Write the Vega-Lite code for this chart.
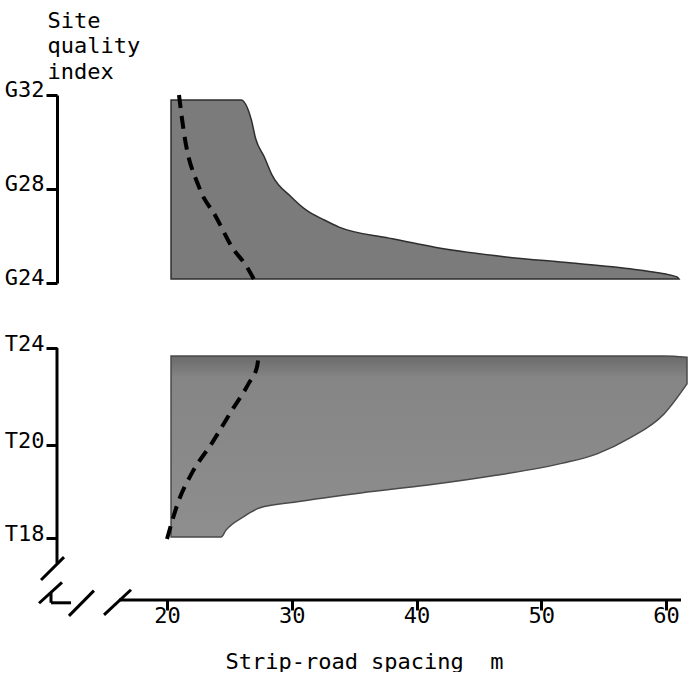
{
  "$schema": "https://vega.github.io/schema/vega-lite/v6.json",
  "padding": {"left": 4, "top": 9, "right": 0, "bottom": 0},
  "background": "white",
  "bounds": "flush",
  "spacing": 65,
  "config": {
    "font": "DejaVu Sans Mono",
    "view": {"stroke": null},
    "axis": {
      "grid": false,
      "labelFont": "DejaVu Sans Mono",
      "titleFont": "DejaVu Sans Mono",
      "labelFontSize": 22,
      "titleFontSize": 22,
      "labelColor": "black",
      "titleColor": "black",
      "titleFontWeight": "normal",
      "domainColor": "black",
      "tickColor": "black",
      "domainWidth": 3,
      "tickWidth": 3
    }
  },
  "datasets": {
    "gArea": [
      {"spacing": 20.32, "upper": 31.79, "lower": 24.17},
      {"spacing": 25.93, "upper": 31.79, "lower": 24.17},
      {"spacing": 26.76, "upper": 30.94, "lower": 24.17},
      {"spacing": 27.10, "upper": 30.15, "lower": 24.17},
      {"spacing": 27.80, "upper": 29.36, "lower": 24.17},
      {"spacing": 28.41, "upper": 28.60, "lower": 24.17},
      {"spacing": 29.96, "upper": 27.66, "lower": 24.17},
      {"spacing": 31.14, "upper": 27.11, "lower": 24.17},
      {"spacing": 32.61, "upper": 26.68, "lower": 24.17},
      {"spacing": 33.79, "upper": 26.38, "lower": 24.17},
      {"spacing": 37.79, "upper": 25.91, "lower": 24.17},
      {"spacing": 41.80, "upper": 25.49, "lower": 24.17},
      {"spacing": 47.17, "upper": 25.11, "lower": 24.17},
      {"spacing": 52.46, "upper": 24.85, "lower": 24.17},
      {"spacing": 57.83, "upper": 24.55, "lower": 24.17},
      {"spacing": 60.88, "upper": 24.26, "lower": 24.17},
      {"spacing": 61.04, "upper": 24.17, "lower": 24.17}
    ],
    "gDash": [
      {"spacing": 20.96, "index": 32.00},
      {"spacing": 21.36, "index": 30.38},
      {"spacing": 22.56, "index": 28.09},
      {"spacing": 23.93, "index": 26.81},
      {"spacing": 25.21, "index": 25.53},
      {"spacing": 26.41, "index": 24.68},
      {"spacing": 27.21, "index": 23.91}
    ],
    "tArea": [
      {"spacing": 20.32, "upper": 23.67, "lower": 18.02},
      {"spacing": 24.33, "upper": 23.67, "lower": 18.02},
      {"spacing": 24.73, "upper": 23.67, "lower": 18.17},
      {"spacing": 26.09, "upper": 23.67, "lower": 18.45},
      {"spacing": 27.45, "upper": 23.67, "lower": 18.65},
      {"spacing": 30.18, "upper": 23.67, "lower": 18.77},
      {"spacing": 35.55, "upper": 23.67, "lower": 18.97},
      {"spacing": 40.92, "upper": 23.67, "lower": 19.14},
      {"spacing": 46.37, "upper": 23.67, "lower": 19.35},
      {"spacing": 51.74, "upper": 23.67, "lower": 19.61},
      {"spacing": 54.47, "upper": 23.67, "lower": 19.81},
      {"spacing": 57.11, "upper": 23.67, "lower": 20.29},
      {"spacing": 59.84, "upper": 23.67, "lower": 21.28},
      {"spacing": 61.68, "upper": 23.62, "lower": 22.52}
    ],
    "tDash": [
      {"spacing": 20.00, "index": 17.98},
      {"spacing": 20.96, "index": 18.82},
      {"spacing": 22.00, "index": 19.40},
      {"spacing": 23.60, "index": 20.08},
      {"spacing": 25.21, "index": 21.44},
      {"spacing": 26.57, "index": 22.56},
      {"spacing": 27.21, "index": 23.22},
      {"spacing": 27.37, "index": 23.79}
    ],
    "lines": [
      {"x": 11.18, "x2": 11.18, "y": 24.0, "y2": 17.46},
      {"x": 16.15, "x2": 61.2, "y": 16.67, "y2": 16.67},
      {"x": 9.90, "x2": 11.74, "y": 17.10, "y2": 17.59},
      {"x": 9.74, "x2": 11.58, "y": 16.60, "y2": 17.05},
      {"x": 10.70, "x2": 10.70, "y": 16.82, "y2": 16.61},
      {"x": 10.70, "x2": 12.30, "y": 16.61, "y2": 16.61},
      {"x": 12.14, "x2": 14.14, "y": 16.33, "y2": 16.87},
      {"x": 14.95, "x2": 17.11, "y": 16.35, "y2": 16.89}
    ]
  },
  "vconcat": [
    {
      "width": 630,
      "height": 188,
      "layer": [
        {
          "data": {"name": "gArea"},
          "mark": {"type": "area", "color": "#7b7b7b", "stroke": "#2e2e2e", "strokeWidth": 1.5, "interpolate": "monotone"},
          "encoding": {
            "x": {"field": "spacing", "type": "quantitative", "scale": {"domain": [11.18, 61.68], "nice": false, "zero": false}, "axis": null},
            "y": {
              "field": "upper", "type": "quantitative",
              "scale": {"domain": [24, 32], "nice": false, "zero": false},
              "axis": {
                "values": [24, 28, 32],
                "labelExpr": "'G' + datum.value",
                "title": ["Site", "quality", "index"],
                "titleAngle": 0,
                "titleAlign": "left",
                "titleBaseline": "alphabetic",
                "titleX": -10,
                "titleY": -68,
                "titleLineHeight": 25.5,
                "tickSize": 11,
                "labelPadding": 2,
                "labelBaseline": "alphabetic",
                "labelOffset": 1
              }
            },
            "y2": {"field": "lower"}
          }
        },
        {
          "data": {"name": "gDash"},
          "mark": {"type": "line", "color": "black", "strokeWidth": 4, "strokeDash": [13, 8], "interpolate": "monotone"},
          "encoding": {
            "x": {"field": "spacing", "type": "quantitative"},
            "y": {"field": "index", "type": "quantitative"}
          }
        }
      ]
    },
    {
      "width": 630,
      "height": 252,
      "layer": [
        {
          "data": {"name": "tArea"},
          "mark": {
            "type": "area",
            "color": {
              "gradient": "linear", "x1": 0, "y1": 0, "x2": 0, "y2": 1,
              "stops": [
                {"offset": 0, "color": "#6a6a6a"},
                {"offset": 0.12, "color": "#858585"},
                {"offset": 1, "color": "#8e8e8e"}
              ]
            },
            "stroke": "#4a4a4a",
            "strokeWidth": 1.5,
            "interpolate": "monotone"
          },
          "encoding": {
            "x": {
              "field": "spacing", "type": "quantitative",
              "scale": {"domain": [11.18, 61.68], "nice": false, "zero": false},
              "axis": {
                "values": [20, 30, 40, 50, 60],
                "domain": false,
                "tickSize": 10,
                "labelPadding": 12,
                "labelBaseline": "alphabetic",
                "title": "Strip-road spacing\u00a0\u00a0m",
                "titleX": 307,
                "titleY": 68,
                "titleBaseline": "alphabetic",
                "titleAlign": "center"
              }
            },
            "y": {
              "field": "upper", "type": "quantitative",
              "scale": {"domain": [16.67, 18, 20, 24], "range": [252, 190, 97, 0], "nice": false, "zero": false},
              "axis": {
                "values": [18, 20, 24],
                "labelExpr": "'T' + datum.value",
                "title": null,
                "domain": false,
                "tickSize": 11,
                "labelPadding": 2,
                "labelBaseline": "alphabetic",
                "labelOffset": 2
              }
            },
            "y2": {"field": "lower"}
          }
        },
        {
          "data": {"name": "tDash"},
          "mark": {"type": "line", "color": "black", "strokeWidth": 4, "strokeDash": [13, 8], "interpolate": "monotone"},
          "encoding": {
            "x": {"field": "spacing", "type": "quantitative"},
            "y": {"field": "index", "type": "quantitative"}
          }
        },
        {
          "data": {"name": "lines"},
          "mark": {"type": "rule", "color": "black", "strokeWidth": 3},
          "encoding": {
            "x": {"field": "x", "type": "quantitative"},
            "x2": {"field": "x2"},
            "y": {"field": "y", "type": "quantitative"},
            "y2": {"field": "y2"}
          }
        }
      ]
    }
  ]
}
